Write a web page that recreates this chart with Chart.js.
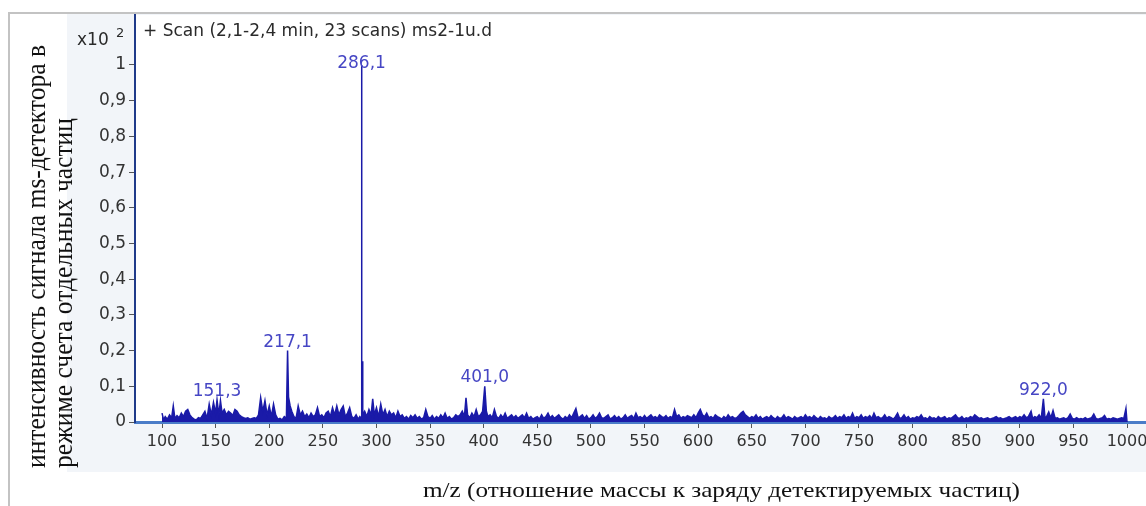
<!DOCTYPE html>
<html>
<head>
<meta charset="utf-8">
<script src="https://cdn.jsdelivr.net/npm/chart.js@4.4.1/dist/chart.umd.min.js"></script>
<style>
  body { margin: 0; background: #fff; }
  #wrap { width: 1146px; height: 506px; }
</style>
</head>
<body>
<div id="wrap"><canvas id="spectrum" width="1146" height="506"></canvas></div>
<script>
// m/z values of the scan, one line per 50 units
const mz = [
  100, 101.5, 103, 105, 107, 109, 110.5, 112, 114, 116, 118, 120, 122, 124, 126, 128, 130, 132, 134, 136, 138, 140, 142, 144, 146, 148, 150,
  151.3, 153, 154.5, 156, 158, 160, 162, 164, 166, 168, 170, 172, 174, 176, 178, 180, 182, 184, 186, 188, 190, 192, 194, 196, 198, 200,
  202, 204, 206, 208, 210, 212, 214, 216, 217.1, 218, 219.5, 221, 223, 225, 227, 229, 231, 233, 235, 237, 239, 241, 243, 245, 247, 249,
  251, 253, 255, 257, 259, 261, 263, 265, 267, 269, 271, 273, 275, 277, 279, 281, 283, 284.5, 285.8, 286.1, 286.4, 286.7, 287.2, 289, 291, 293, 295, 296.5, 298, 300,
  302, 304, 306, 308, 310, 312, 314, 316, 318, 320, 322, 324, 326, 328, 330, 332, 334, 336, 338, 340, 342, 344, 346, 348, 350,
  352, 354, 356, 358, 360, 362, 364, 366, 368, 370, 372, 374, 376, 378, 380, 382, 383.5, 385, 387, 389, 391, 393, 395, 397, 399,
  401, 402.5, 404, 406, 408, 410, 412, 414, 416, 418, 420, 422, 424, 426, 428, 430, 432, 434, 436, 438, 440, 442, 444, 446, 448, 450,
  452, 454, 456, 458, 460, 462, 464, 466, 468, 470, 472, 474, 476, 478, 480, 482, 484, 486, 488, 490, 492, 494, 496, 498, 500,
  502, 504, 506, 508, 510, 512, 514, 516, 518, 520, 522, 524, 526, 528, 530, 532, 534, 536, 538, 540, 542, 544, 546, 548, 550,
  552, 554, 556, 558, 560, 562, 564, 566, 568, 570, 572, 574, 576, 578, 580, 582, 584, 586, 588, 590, 592, 594, 596, 598, 600,
  602, 604, 606, 608, 610, 612, 614, 616, 618, 620, 622, 624, 626, 628, 630, 632, 634, 636, 638, 640, 642, 644, 646, 648, 650,
  652, 654, 656, 658, 660, 662, 664, 666, 668, 670, 672, 674, 676, 678, 680, 682, 684, 686, 688, 690, 692, 694, 696, 698, 700,
  702, 704, 706, 708, 710, 712, 714, 716, 718, 720, 722, 724, 726, 728, 730, 732, 734, 736, 738, 740, 742, 744, 746, 748, 750,
  752, 754, 756, 758, 760, 762, 764, 766, 768, 770, 772, 774, 776, 778, 780, 782, 784, 786, 788, 790, 792, 794, 796, 798, 800,
  802, 804, 806, 808, 810, 812, 814, 816, 818, 820, 822, 824, 826, 828, 830, 832, 834, 836, 838, 840, 842, 844, 846, 848, 850,
  852, 854, 856, 858, 860, 862, 864, 866, 868, 870, 872, 874, 876, 878, 880, 882, 884, 886, 888, 890, 892, 894, 896, 898, 900,
  902, 904, 906, 908, 910.5, 912, 914, 916, 918, 920, 922, 923.5, 925, 927, 929, 931, 933, 935, 937, 939, 941, 943, 945, 947, 949,
  951, 953, 955, 957, 959, 961, 963, 965, 967, 969, 971, 973, 975, 977, 979, 981, 983, 985, 987, 989, 991, 993, 995, 997, 999, 1000
];

// signal, x10^2 counts
const intensity = [
  0.025, 0.006, 0.015, 0.008, 0.02, 0.012, 0.045, 0.01, 0.018, 0.012, 0.025, 0.015, 0.03, 0.035, 0.02, 0.012, 0.008, 0.006, 0.012, 0.01, 0.02, 0.03, 0.01, 0.05, 0.02, 0.055, 0.025,
  0.062, 0.02, 0.06, 0.025, 0.035, 0.02, 0.03, 0.025, 0.018, 0.035, 0.03, 0.02, 0.015, 0.012, 0.01, 0.012, 0.008, 0.01, 0.012, 0.01, 0.02, 0.068, 0.03, 0.06, 0.02, 0.045,
  0.015, 0.05, 0.02, 0.008, 0.01, 0.006, 0.015, 0.01, 0.2, 0.07, 0.045, 0.03, 0.015, 0.01, 0.045, 0.02, 0.03, 0.015, 0.022, 0.012, 0.025, 0.015, 0.02, 0.04, 0.015, 0.02,
  0.012, 0.025, 0.03, 0.015, 0.04, 0.02, 0.045, 0.02, 0.035, 0.045, 0.015, 0.025, 0.04, 0.015, 0.01, 0.02, 0.008, 0.015, 0.01, 1.0, 0.02, 0.17, 0.02, 0.03, 0.015, 0.035, 0.02, 0.065, 0.02, 0.04,
  0.015, 0.05, 0.02, 0.035, 0.015, 0.03, 0.02, 0.025, 0.012, 0.03, 0.015, 0.02, 0.01, 0.015, 0.008, 0.018, 0.012, 0.02, 0.01, 0.015, 0.008, 0.012, 0.035, 0.015, 0.01,
  0.018, 0.008, 0.015, 0.01, 0.02, 0.012, 0.025, 0.01, 0.015, 0.008, 0.012, 0.02, 0.015, 0.02, 0.03, 0.015, 0.068, 0.02, 0.012, 0.025, 0.015, 0.035, 0.015, 0.02, 0.03,
  0.1, 0.03, 0.015, 0.02, 0.012, 0.035, 0.015, 0.01, 0.02, 0.012, 0.025, 0.01, 0.015, 0.02, 0.012, 0.018, 0.01, 0.015, 0.02, 0.012, 0.025, 0.01, 0.015, 0.008, 0.012, 0.015,
  0.008, 0.02, 0.01, 0.015, 0.025, 0.012, 0.018, 0.01, 0.015, 0.02, 0.012, 0.008, 0.015, 0.01, 0.02, 0.012, 0.025, 0.038, 0.012, 0.015, 0.02, 0.01, 0.018, 0.008, 0.012,
  0.02, 0.01, 0.015, 0.025, 0.012, 0.01, 0.015, 0.02, 0.008, 0.012, 0.018, 0.01, 0.015, 0.008, 0.012, 0.02, 0.01, 0.015, 0.018, 0.01, 0.025, 0.012, 0.015, 0.01, 0.018,
  0.01, 0.015, 0.02, 0.012, 0.015, 0.01, 0.02, 0.015, 0.012, 0.018, 0.01, 0.015, 0.012, 0.035, 0.015, 0.02, 0.01, 0.015, 0.012, 0.018, 0.015, 0.012, 0.02, 0.012, 0.025,
  0.035, 0.02, 0.015, 0.025, 0.012, 0.015, 0.01, 0.02, 0.015, 0.012, 0.008, 0.015, 0.01, 0.02, 0.012, 0.015, 0.01, 0.012, 0.018, 0.025, 0.03, 0.02, 0.015, 0.01, 0.015,
  0.012, 0.02, 0.01, 0.015, 0.008, 0.012, 0.015, 0.01, 0.018, 0.012, 0.008, 0.015, 0.01, 0.012, 0.02, 0.01, 0.015, 0.012, 0.008, 0.015, 0.01, 0.012, 0.015, 0.01, 0.02,
  0.012, 0.015, 0.01, 0.018, 0.012, 0.008, 0.015, 0.01, 0.012, 0.008, 0.015, 0.01, 0.012, 0.018, 0.01, 0.015, 0.012, 0.02, 0.01, 0.015, 0.012, 0.025, 0.01, 0.015, 0.012,
  0.02, 0.01, 0.015, 0.012, 0.018, 0.01, 0.025, 0.012, 0.015, 0.01, 0.012, 0.02, 0.01, 0.015, 0.012, 0.008, 0.015, 0.025, 0.01, 0.012, 0.02, 0.01, 0.015, 0.008, 0.012,
  0.01, 0.015, 0.012, 0.02, 0.01, 0.012, 0.008, 0.015, 0.01, 0.012, 0.008, 0.015, 0.01, 0.012, 0.015, 0.008, 0.012, 0.01, 0.015, 0.02, 0.012, 0.01, 0.015, 0.008, 0.012,
  0.01, 0.015, 0.012, 0.02, 0.015, 0.01, 0.012, 0.008, 0.01, 0.012, 0.008, 0.01, 0.012, 0.015, 0.01, 0.012, 0.008, 0.01, 0.012, 0.015, 0.01, 0.012, 0.015, 0.01, 0.015,
  0.012, 0.02, 0.012, 0.015, 0.03, 0.01, 0.015, 0.012, 0.02, 0.01, 0.065, 0.012, 0.015, 0.028, 0.012, 0.032, 0.01, 0.012, 0.008, 0.01, 0.012, 0.008, 0.012, 0.022, 0.01,
  0.008, 0.012, 0.008, 0.01, 0.008, 0.012, 0.008, 0.01, 0.012, 0.022, 0.01, 0.008, 0.01, 0.012, 0.018, 0.008, 0.01, 0.008, 0.012, 0.01, 0.008, 0.01, 0.012, 0.01, 0.038, 0
];

// labelled peaks
const peakMz = [151.3, 217.1, 286.1, 401.0, 922.0];
const peakLabels = ['151,3', '217,1', '286,1', '401,0', '922,0'];

const xTicks = [100, 150, 200, 250, 300, 350, 400, 450, 500, 550, 600, 650, 700, 750, 800, 850, 900, 950, 1000];
const yTicks = [0, 0.1, 0.2, 0.3, 0.4, 0.5, 0.6, 0.7, 0.8, 0.9, 1];

const scanTitle = '+ Scan (2,1-2,4 min, 23 scans) ms2-1u.d';
const yTitle = ['интенсивность сигнала ms-детектора в', 'режиме счета отдельных частиц'];
const xTitle = 'm/z (отношение массы к заряду детектируемых частиц)';

const SANS = '"DejaVu Sans", sans-serif';
const SERIF = '"Liberation Serif", "Times New Roman", serif';

// draw text squeezed/stretched to a given run length
function fitText(ctx, text, x, y, width, thick) {
  const w = ctx.measureText(text).width;
  ctx.save();
  ctx.translate(x, y);
  ctx.scale(width / w, thick || 1);
  ctx.fillText(text, 0, 0);
  ctx.restore();
}

const frame = {
  id: 'frame',
  beforeDraw(chart) {
    const { ctx, chartArea: a, width, height } = chart;
    ctx.save();
    ctx.fillStyle = '#ffffff';
    ctx.fillRect(0, 0, width, height);
    // grey-blue panel behind the axes
    ctx.fillStyle = '#f2f5f9';
    ctx.fillRect(67, 14, width - 67, 458);
    ctx.fillStyle = '#ffffff';
    ctx.fillRect(a.left, a.top, a.right - a.left, a.bottom - a.top);
    // outer frame
    ctx.fillStyle = '#c3c3c3';
    ctx.fillRect(8, 12, width - 8, 2);
    ctx.fillRect(8, 12, 2, height - 12);
    ctx.restore();
  },
  afterDraw(chart) {
    const { ctx, chartArea: a, scales } = chart;
    ctx.save();

    // scan header and exponent
    ctx.fillStyle = '#2a2a2a';
    ctx.textAlign = 'left';
    ctx.textBaseline = 'alphabetic';
    ctx.font = '17px ' + SANS;
    ctx.fillText(scanTitle, a.left + 8, 36);
    ctx.fillText('x10', 77, 45);
    ctx.font = '13px ' + SANS;
    ctx.fillText('2', 116, 37);

    // peak annotations
    ctx.fillStyle = '#4646c4';
    ctx.font = '17px ' + SANS;
    ctx.textAlign = 'center';
    peakMz.forEach((m, i) => {
      const v = intensity[mz.indexOf(m)];
      const px = scales.x.getPixelForValue(m);
      const py = Math.max(scales.y.getPixelForValue(v) - 4, a.top + 53);
      ctx.fillText(peakLabels[i], px, py);
    });

    // axis titles
    ctx.fillStyle = '#111111';
    ctx.textAlign = 'left';
    ctx.font = '23px ' + SERIF;
    ctx.save();
    ctx.translate(45, 468);
    ctx.rotate(-Math.PI / 2);
    fitText(ctx, yTitle[0], 0, 0, 423, 1.15);
    ctx.restore();
    ctx.save();
    ctx.translate(72, 468);
    ctx.rotate(-Math.PI / 2);
    fitText(ctx, yTitle[1], 0, 0, 350, 1.15);
    ctx.restore();

    ctx.font = '22px ' + SERIF;
    fitText(ctx, xTitle, 423, 497, 597);
    ctx.restore();
  }
};

new Chart(document.getElementById('spectrum'), {
  type: 'line',
  data: {
    datasets: [{
      data: mz.map((m, i) => ({ x: m, y: intensity[i] })),
      borderColor: '#1a1aa8',
      backgroundColor: '#1a1aa8',
      borderWidth: 1.5,
      pointRadius: 0,
      fill: 'origin',
      tension: 0
    }]
  },
  options: {
    responsive: false,
    animation: false,
    devicePixelRatio: 1,
    layout: { padding: { top: 15, left: 0, right: 0, bottom: 0 } },
    plugins: { legend: { display: false }, tooltip: { enabled: false } },
    scales: {
      x: {
        type: 'linear',
        min: 74.8,
        max: 1017.7,
        afterBuildTicks(s) { s.ticks = xTicks.map(v => ({ value: v })); },
        afterFit(s) { s.height = 84; s.paddingLeft = 0; s.paddingRight = 0; },
        grid: { drawOnChartArea: false, tickLength: 6, color: '#555' },
        border: { color: '#4a7cc8', width: 3 },
        ticks: {
          autoSkip: false, maxRotation: 0, padding: 4, color: '#333',
          font: { family: SANS, size: 16 },
          callback: v => String(v)
        }
      },
      y: {
        min: 0,
        max: 1.14,
        afterBuildTicks(s) { s.ticks = yTicks.map(v => ({ value: v })); },
        afterFit(s) { s.width = 135; s.paddingTop = 0; s.paddingBottom = 0; },
        grid: { drawOnChartArea: false, tickLength: 6, color: '#555' },
        border: { color: '#1f3a8a', width: 2 },
        ticks: {
          padding: 3, color: '#333',
          font: { family: SANS, size: 17 },
          callback: v => (v === 0 || v === 1) ? String(v) : v.toFixed(1).replace('.', ',')
        }
      }
    }
  },
  plugins: [frame]
});
</script>
</body>
</html>
